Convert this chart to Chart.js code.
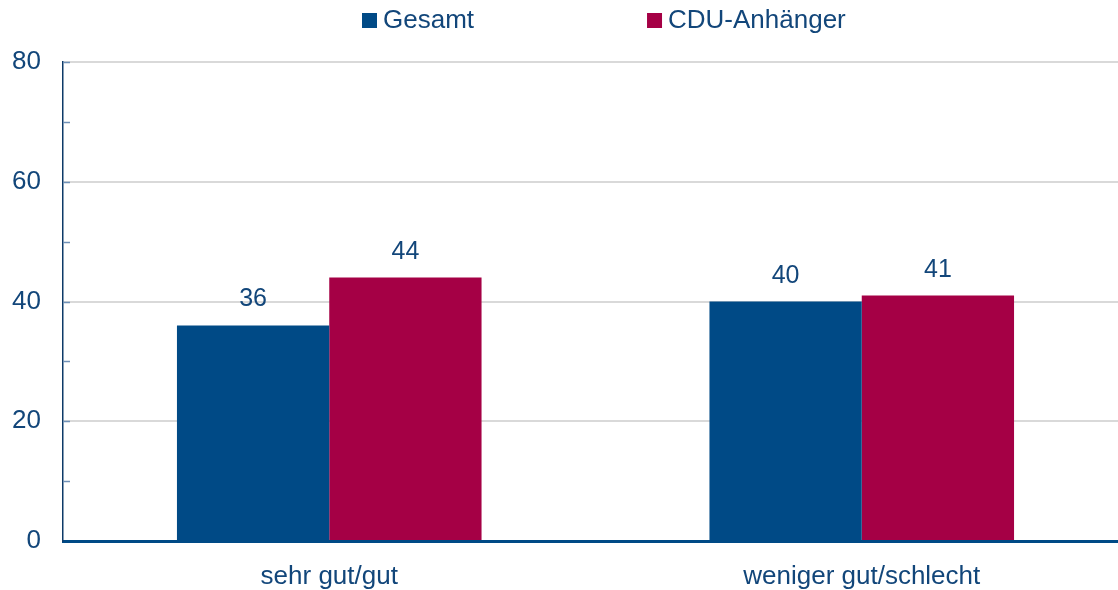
<!DOCTYPE html>
<html>
<head>
<meta charset="utf-8">
<script src="https://cdn.jsdelivr.net/npm/chart.js@4/dist/chart.umd.min.js"></script>
<style>
  html, body { margin: 0; padding: 0; background: #fff; overflow: hidden; }
  #wrap { width: 1128px; height: 590px; position: relative; }
</style>
</head>
<body>
<div id="wrap"><canvas id="chart"></canvas></div>
<script>
const categories = ['sehr gut/gut', 'weniger gut/schlecht'];
const seriesNames = ['Gesamt', 'CDU-Anhänger'];
const gesamt = [36, 40];
const cduAnhaenger = [44, 41];
const yTicks = [0, 20, 40, 60, 80];

const BLUE = '#004a86';
const RED = '#a50045';
const TEXT = '#12467a';
const FONT = '"Liberation Sans", Arial, sans-serif';

// value labels above the bars
const valueLabels = {
    id: 'valueLabels',
    afterDatasetsDraw(chart) {
        const ctx = chart.ctx;
        ctx.save();
        ctx.fillStyle = TEXT;
        ctx.font = '25px ' + FONT;
        ctx.textAlign = 'center';
        ctx.textBaseline = 'alphabetic';
        chart.data.datasets.forEach((ds, i) => {
            chart.getDatasetMeta(i).data.forEach((bar, j) => {
                ctx.fillText(ds.data[j], bar.x, bar.y - 19);
            });
        });
        ctx.restore();
    }
};

// small tick marks on the inside of the y axis
const innerTicks = {
    id: 'innerTicks',
    afterDraw(chart) {
        const y = chart.scales.y;
        const ctx = chart.ctx;
        ctx.save();
        ctx.strokeStyle = '#6f90b6';
        ctx.lineWidth = 1.5;
        for (let v = 10; v <= 80; v += 10) {
            const py = Math.round(y.getPixelForValue(v)) + 0.5;
            ctx.beginPath();
            ctx.moveTo(y.right, py);
            ctx.lineTo(y.right + 7, py);
            ctx.stroke();
        }
        ctx.restore();
    }
};

// legend drawn by hand: small square, tight gap, wide spacing between items
const topLegend = {
    id: 'topLegend',
    afterDraw(chart) {
        const ctx = chart.ctx;
        ctx.save();
        ctx.font = '26px ' + FONT;
        ctx.textBaseline = 'alphabetic';
        let x = 362;
        chart.data.datasets.forEach((ds) => {
            ctx.fillStyle = ds.backgroundColor;
            ctx.fillRect(x, 13, 15, 15);
            ctx.fillStyle = TEXT;
            ctx.fillText(ds.label, x + 21, 28);
            x += 21 + ctx.measureText(ds.label).width + 173;
        });
        ctx.restore();
    }
};

new Chart(document.getElementById('chart'), {
    type: 'bar',
    data: {
        labels: categories,
        datasets: [
            { label: seriesNames[0], data: gesamt, backgroundColor: BLUE },
            { label: seriesNames[1], data: cduAnhaenger, backgroundColor: RED }
        ]
    },
    options: {
        responsive: true,
        maintainAspectRatio: false,
        animation: false,
        layout: { padding: { top: 62, right: 0, bottom: 0, left: 0 } },
        datasets: { bar: { categoryPercentage: 0.572, barPercentage: 1 } },
        plugins: {
            legend: { display: false },
            tooltip: { enabled: false }
        },
        scales: {
            x: {
                grid: { display: false },
                border: { display: true, color: BLUE, width: 3 },
                ticks: { color: TEXT, font: { family: FONT, size: 26 }, padding: 12 },
                afterFit(s) { s.height = 49; }
            },
            y: {
                min: 0,
                max: 80,
                afterBuildTicks(s) { s.ticks = yTicks.map(v => ({ value: v })); },
                grid: { color: '#d9d9d9', lineWidth: 2, drawTicks: false },
                border: { display: true, color: '#0d3a68', width: 1.5 },
                ticks: { color: TEXT, font: { family: FONT, size: 26 }, padding: 22 },
                afterFit(s) { s.width = 63; }
            }
        }
    },
    plugins: [valueLabels, innerTicks, topLegend]
});
</script>
</body>
</html>
